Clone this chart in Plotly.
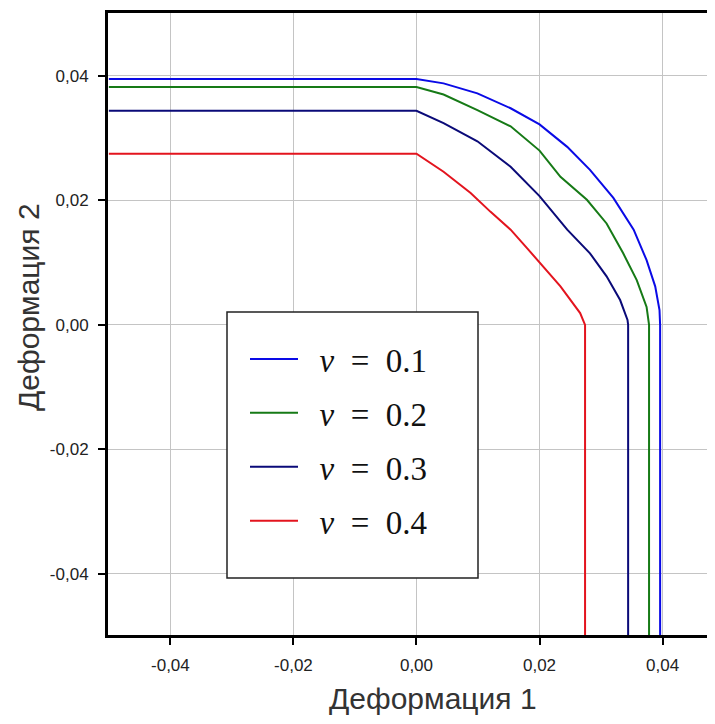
import plotly.graph_objects as go

# ---- data ----
labels = ["\u2002<i>ν</i>\u2002=\u20020.1", "\u2002<i>ν</i>\u2002=\u20020.2",
          "\u2002<i>ν</i>\u2002=\u20020.3", "\u2002<i>ν</i>\u2002=\u20020.4"]

x_nu01 = [-0.05, 0.0, 0.0044, 0.0099, 0.0153, 0.0200, 0.0245, 0.0282, 0.0320, 0.0353, 0.0374, 0.0388, 0.0395, 0.0396, 0.0396]
y_nu01 = [0.0395, 0.0395, 0.0388, 0.0372, 0.0348, 0.0322, 0.0286, 0.0249, 0.0204, 0.0153, 0.0104, 0.0062, 0.0024, 0.0, -0.05]

x_nu02 = [-0.05, 0.0, 0.0044, 0.0099, 0.0153, 0.0200, 0.0234, 0.0277, 0.0309, 0.0336, 0.0358, 0.0374, 0.0378, 0.0378]
y_nu02 = [0.0382, 0.0382, 0.0370, 0.0345, 0.0319, 0.0280, 0.0238, 0.0201, 0.0163, 0.0115, 0.0072, 0.0029, 0.0, -0.05]

x_nu03 = [-0.05, 0.0, 0.0044, 0.0099, 0.0153, 0.0200, 0.0245, 0.0282, 0.0309, 0.0331, 0.0343, 0.0344, 0.0344]
y_nu03 = [0.0344, 0.0344, 0.0324, 0.0295, 0.0254, 0.0207, 0.0153, 0.0115, 0.0078, 0.0040, 0.0008, 0.0, -0.05]

x_nu04 = [-0.05, 0.0, 0.0044, 0.0088, 0.0120, 0.0153, 0.0180, 0.0200, 0.0234, 0.0266, 0.0274, 0.0274]
y_nu04 = [0.0275, 0.0275, 0.0246, 0.0212, 0.0182, 0.0153, 0.0123, 0.0100, 0.0062, 0.0019, 0.0, -0.05]

tick_vals = [-0.04, -0.02, 0.0, 0.02, 0.04]
tick_text = ["-0,04", "-0,02", "0,00", "0,02", "0,04"]
x_title = "Деформация 1"
y_title = "Деформация 2"

colors = ["#0a0ae6", "#167a16", "#0a0a78", "#e3141e"]

series = [(x_nu01, y_nu01), (x_nu02, y_nu02), (x_nu03, y_nu03), (x_nu04, y_nu04)]

fig = go.Figure()
for i, ((xs, ys), lab, col) in enumerate(zip(series, labels, colors)):
    fig.add_trace(go.Scatter(x=xs, y=ys, mode="lines", name=lab,
                             legendgroup=f"g{i}",
                             line=dict(color=col, width=2)))

OFF = 8  # page body margin
W, H = 715 - OFF, 724 - OFF
L, R, T, B = 100, 0, 5, 89
pw, ph = W - L - R, H - T - B


def px_x(p):
    return (p - OFF - L) / pw


def px_y(p):
    return (H - B - (p - OFF)) / ph


axis_common = dict(
    showline=True, linecolor="black", linewidth=3,
    showgrid=True, gridcolor="#c4c4c4", gridwidth=1,
    zeroline=False,
    ticks="outside", ticklen=7, tickwidth=2, tickcolor="black",
    tickvals=tick_vals, ticktext=tick_text,
    tickfont=dict(family="Liberation Sans, Arial, sans-serif", size=17, color="#222222"),
)

fig.update_layout(
    width=W, height=H,
    margin=dict(l=L, r=R, t=T, b=B, pad=0),
    paper_bgcolor="white", plot_bgcolor="white",
    xaxis=dict(range=[-0.05014, 0.04852], mirror=True, ticklabelstandoff=6, **axis_common),
    yaxis=dict(range=[-0.0498, 0.0501], mirror=False, ticklabelstandoff=6, **axis_common),
    showlegend=True,
    legend=dict(
        x=px_x(245), y=px_y(331), xanchor="left", yanchor="top",
        bgcolor="rgba(0,0,0,0)", borderwidth=0,
        itemwidth=48,
        font=dict(family="Liberation Serif, Times New Roman, serif", size=33, color="#111111"),
        tracegroupgap=8, traceorder="grouped",
    ),
    shapes=[dict(type="rect", xref="paper", yref="paper",
                 x0=px_x(227), x1=px_x(478), y0=px_y(578), y1=px_y(312),
                 line=dict(color="#222222", width=1.5), fillcolor="white", layer="above")],
    annotations=[
        dict(text=x_title, xref="paper", yref="paper", x=px_x(433), y=px_y(698),
             xanchor="center", yanchor="middle", showarrow=False,
             font=dict(family="Liberation Sans, Arial, sans-serif", size=30, color="#333333")),
        dict(text=y_title, xref="paper", yref="paper", x=px_x(28), y=px_y(307),
             xanchor="center", yanchor="middle", textangle=-90, showarrow=False,
             font=dict(family="Liberation Sans, Arial, sans-serif", size=30, color="#333333")),
    ],
)

fig.write_html("out.html")
